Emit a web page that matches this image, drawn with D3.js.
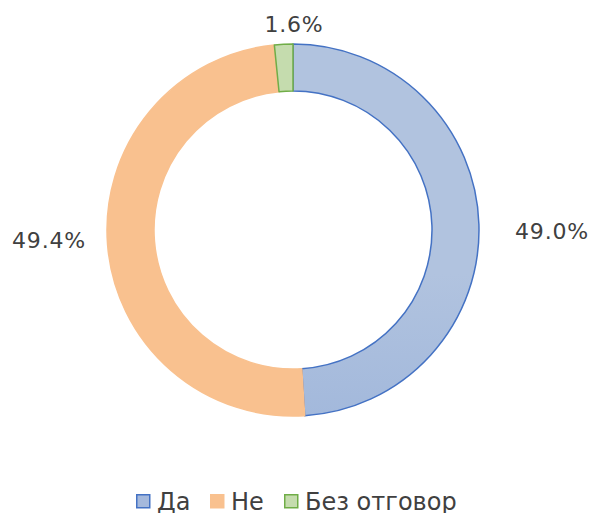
<!DOCTYPE html>
<html>
<head>
<meta charset="utf-8">
<script src="https://cdn.jsdelivr.net/npm/d3@7"></script>
<style>
  body { margin: 0; background: #fff; }
  svg text { font-family: "DejaVu Sans", sans-serif; fill: #404040; }
</style>
</head>
<body>
<svg id="chart" width="592" height="513"></svg>
<script>
// chart data
const categories = ["Да", "Не", "Без отговор"];
const values = [49.0, 49.4, 1.6];
const labels = ["49.0%", "49.4%", "1.6%"];

const fills = ["url(#blueGrad)", "#f9c18f", "#c5dcae"];
const strokes = ["#4472c4", "#f9c18f", "#70ad47"];
const swatchFill = ["#a5b9dc", "#f9c18f", "#c5dcae"];

const svg = d3.select("#chart");
const cx = 293, cy = 230, outerR = 186, innerR = 139;

// gradient on the blue slice
const defs = svg.append("defs");
const grad = defs.append("linearGradient")
	.attr("id", "blueGrad")
	.attr("gradientUnits", "userSpaceOnUse")
	.attr("x1", 0).attr("y1", cy - outerR)
	.attr("x2", 0).attr("y2", cy + outerR);
grad.append("stop").attr("offset", "0%").attr("stop-color", "#b1c3df");
grad.append("stop").attr("offset", "100%").attr("stop-color", "#8ca8d6");

const pie = d3.pie().sort(null).value(d => d);
const arcs = pie(values);
const arc = d3.arc().innerRadius(innerR).outerRadius(outerR);

const g = svg.append("g").attr("transform", `translate(${cx},${cy})`);

g.selectAll("path")
	.data(arcs)
	.join("path")
	.attr("d", arc)
	.attr("fill", (d, i) => fills[i])
	.attr("stroke", (d, i) => strokes[i])
	.attr("stroke-width", 1.5)
	.attr("stroke-linejoin", "round");

// data labels, placed outside the ring
const labelPos = [
	{x: 552, y: 239},
	{x: 49, y: 248},
	{x: 294, y: 32}
];
svg.selectAll("text.lbl")
	.data(arcs)
	.join("text")
	.attr("class", "lbl")
	.attr("x", (d, i) => labelPos[i].x)
	.attr("y", (d, i) => labelPos[i].y)
	.attr("text-anchor", "middle")
	.attr("font-size", 22)
	.attr("letter-spacing", 0.8)
	.text((d, i) => labels[i]);

// legend
const legendX = [136, 210, 284];
const legend = svg.append("g");
categories.forEach((c, i) => {
	legend.append("rect")
		.attr("x", legendX[i] + 0.75)
		.attr("y", 494.75)
		.attr("width", 13)
		.attr("height", 13)
		.attr("fill", swatchFill[i])
		.attr("stroke", strokes[i])
		.attr("stroke-width", 1.5);
	legend.append("text")
		.attr("x", legendX[i] + 21)
		.attr("y", 510)
		.attr("font-size", 24)
		.text(c);
});
</script>
</body>
</html>
